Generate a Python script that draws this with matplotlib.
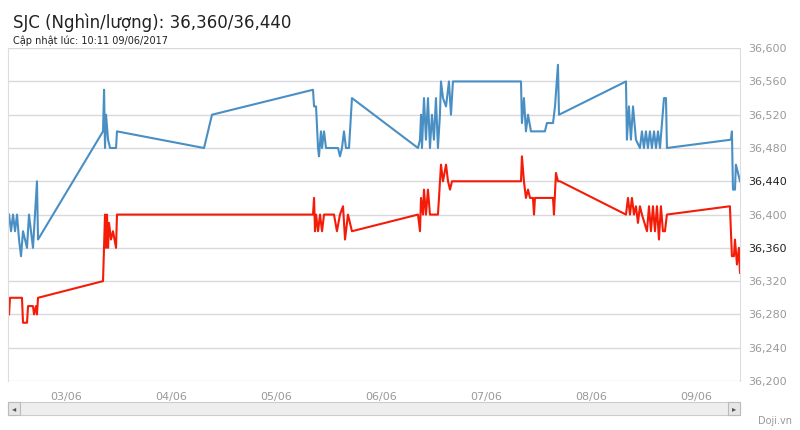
import matplotlib.pyplot as plt
from matplotlib.patches import Rectangle

# --- DATA ---
# time in days (03/06 = 3.0), price in thousand VND
buy_t = [2.457, 2.476, 2.495, 2.514, 2.533, 2.552, 2.571, 2.59, 2.609, 2.628, 2.647, 2.666, 2.685, 2.704,
         2.723, 2.733, 3.352, 3.362, 3.371, 3.381, 3.4, 3.419, 3.476, 3.485, 4.314, 4.39, 5.352, 5.362,
         5.381, 5.4, 5.409, 5.428, 5.438, 5.457, 5.476, 5.59, 5.609, 5.628, 5.647, 5.666, 5.695, 5.723,
         6.352, 6.371, 6.381, 6.39, 6.409, 6.428, 6.447, 6.466, 6.485, 6.504, 6.523, 6.542, 6.561, 6.571,
         6.59, 6.619, 6.647, 6.666, 6.685, 6.704, 7.333, 7.342, 7.361, 7.38, 7.4, 7.428, 7.561, 7.58,
         7.638, 7.657, 7.685, 7.695, 8.333, 8.342, 8.361, 8.38, 8.4, 8.428, 8.466, 8.485, 8.504, 8.523,
         8.542, 8.561, 8.58, 8.6, 8.619, 8.638, 8.657, 8.695, 8.714, 8.723, 9.333, 9.342, 9.352, 9.371,
         9.38, 9.4, 9.419]
buy_v = [36400, 36380, 36400, 36380, 36400, 36370, 36350, 36380, 36370, 36360, 36400, 36380, 36360, 36400,
         36440, 36370, 36500, 36550, 36480, 36520, 36490, 36480, 36480, 36500, 36480, 36520, 36550, 36530,
         36530, 36480, 36470, 36500, 36480, 36500, 36480, 36480, 36470, 36480, 36500, 36480, 36480, 36540,
         36480, 36490, 36520, 36480, 36540, 36490, 36540, 36480, 36520, 36490, 36540, 36480, 36520, 36560,
         36540, 36530, 36560, 36520, 36560, 36560, 36560, 36510, 36540, 36500, 36520, 36500, 36500, 36510,
         36510, 36530, 36580, 36520, 36560, 36490, 36530, 36490, 36530, 36490, 36480, 36500, 36480, 36500,
         36480, 36500, 36480, 36500, 36480, 36500, 36480, 36540, 36540, 36480, 36490, 36500, 36430, 36430,
         36460, 36450, 36440]

sell_t = [2.457, 2.466, 2.58, 2.59, 2.628, 2.638, 2.685, 2.695, 2.714, 2.723, 2.733, 3.352, 3.371, 3.381,
          3.39, 3.4, 3.409, 3.428, 3.447, 3.476, 3.485, 5.352, 5.362, 5.371, 5.381, 5.4, 5.419, 5.438,
          5.457, 5.552, 5.58, 5.609, 5.638, 5.657, 5.685, 5.723, 6.352, 6.371, 6.381, 6.4, 6.409, 6.428,
          6.447, 6.466, 6.485, 6.542, 6.552, 6.571, 6.59, 6.619, 6.638, 6.657, 6.676, 6.704, 7.333, 7.342,
          7.361, 7.38, 7.4, 7.419, 7.447, 7.457, 7.466, 7.638, 7.647, 7.666, 7.685, 7.704, 8.333, 8.352,
          8.371, 8.39, 8.409, 8.428, 8.447, 8.466, 8.485, 8.533, 8.552, 8.571, 8.59, 8.609, 8.628, 8.647,
          8.666, 8.685, 8.704, 8.723, 9.323, 9.342, 9.361, 9.371, 9.39, 9.409, 9.419]
sell_v = [36280, 36300, 36300, 36270, 36270, 36290, 36290, 36280, 36290, 36280, 36300, 36320, 36400, 36360,
          36400, 36360, 36390, 36370, 36380, 36360, 36400, 36400, 36420, 36380, 36400, 36380, 36400, 36380,
          36400, 36400, 36380, 36400, 36410, 36370, 36400, 36380, 36400, 36380, 36420, 36400, 36430, 36400,
          36430, 36400, 36400, 36400, 36420, 36460, 36440, 36460, 36440, 36430, 36440, 36440, 36440, 36470,
          36440, 36420, 36430, 36420, 36420, 36400, 36420, 36420, 36400, 36450, 36440, 36440, 36400, 36420,
          36400, 36420, 36400, 36410, 36390, 36410, 36400, 36380, 36410, 36380, 36410, 36380, 36410, 36370,
          36410, 36380, 36380, 36400, 36410, 36350, 36350, 36370, 36340, 36360, 36330]

day_ticks = [3, 4, 5, 6, 7, 8, 9]
day_labels = ["03/06", "04/06", "05/06", "06/06", "07/06", "08/06", "09/06"]
y_ticks = list(range(36200, 36601, 40))
current = [36360, 36440]

fig = plt.figure(figsize=(8, 4.3), dpi=100)
ax = fig.add_axes([0.01, 0.114, 0.915, 0.774])

for y in y_ticks:
    ax.axhline(y, color="#d8d8de", lw=1, zorder=0)
ax.plot(buy_t, buy_v, color="#4a8fc4", lw=1.5)
ax.plot(sell_t, sell_v, color="#f41c08", lw=1.5)

ax.set_xlim(2.447, 9.419)
ax.set_ylim(36200, 36600)
ax.yaxis.tick_right()
ax.set_yticks(y_ticks)
ax.set_yticklabels([f"{v:,}" for v in y_ticks])
for lbl, v in zip(ax.get_yticklabels(), y_ticks):
    lbl.set_color("#222222" if v in current else "#999999")
ax.set_xticks(day_ticks)
ax.set_xticklabels(day_labels)
ax.tick_params(axis="y", length=0, labelsize=8, pad=6)
ax.tick_params(axis="x", length=0, labelsize=8, labelcolor="#999999", pad=8)
for s in ["top", "bottom"]:
    ax.spines[s].set_visible(False)
for s in ["left", "right"]:
    ax.spines[s].set_color("#dddddd")

fig.text(0.016, 0.935, "SJC (Nghìn/lượng): 36,360/36,440", fontsize=12, color="#222222")
fig.text(0.016, 0.898, "Cập nhật lúc: 10:11 09/06/2017", fontsize=7, color="#222222")

# scrollbar
fig.patches.append(Rectangle((0.01, 0.035), 0.915, 0.03, transform=fig.transFigure,
                             facecolor="#eeeeee", edgecolor="#cccccc", lw=0.8))
fig.patches.append(Rectangle((0.01, 0.035), 0.015, 0.03, transform=fig.transFigure,
                             facecolor="#e6e6e6", edgecolor="#bbbbbb", lw=0.8))
fig.patches.append(Rectangle((0.91, 0.035), 0.015, 0.03, transform=fig.transFigure,
                             facecolor="#e6e6e6", edgecolor="#bbbbbb", lw=0.8))
fig.text(0.0175, 0.05, "◂", fontsize=6, color="#555555", ha="center", va="center")
fig.text(0.9175, 0.05, "▸", fontsize=6, color="#555555", ha="center", va="center")
fig.text(0.99, 0.01, "Doji.vn", fontsize=7, color="#999999", ha="right", va="bottom")

fig.savefig("out.png", dpi=100)
